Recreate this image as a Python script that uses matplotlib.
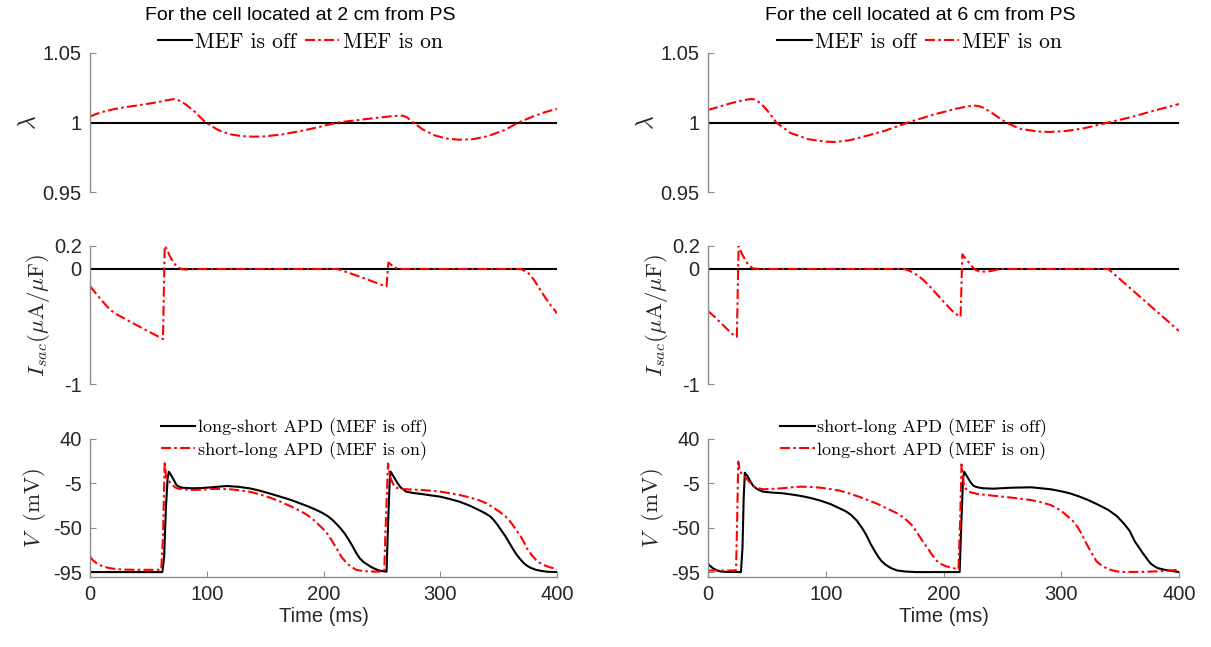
import numpy as np
import matplotlib
matplotlib.use('Agg')
import matplotlib.pyplot as plt

plt.rcParams['font.family'] = 'Liberation Sans'
plt.rcParams['mathtext.fontset'] = 'cm'
plt.rcParams['axes.unicode_minus'] = False

# ---- data ----
# left column: cell at 2 cm from PS
lam_t_2 = [0, 5, 10, 20, 30, 40, 50, 60, 66, 70, 72, 74, 77, 82, 90, 99, 110, 120, 130, 140, 150,
           165, 180, 195, 212, 230, 245, 258, 264, 266, 268, 271, 277, 285, 295, 305, 316, 328,
           340, 355, 367, 380, 390, 400]
lam_2 = [1.0043, 1.006, 1.0075, 1.0095, 1.011, 1.0122, 1.0135, 1.015, 1.0160, 1.0166, 1.0168,
         1.0166, 1.0155, 1.013, 1.0075, 1.0, 0.9945, 0.9915, 0.9902, 0.9898, 0.990, 0.9915,
         0.9938, 0.9965, 1.0, 1.0018, 1.0033, 1.0045, 1.0049, 1.005, 1.0048, 1.0040, 1.0, 0.995,
         0.9908, 0.9885, 0.9876, 0.988, 0.990, 0.9945, 1.0, 1.0045, 1.0075, 1.0098]

isac_t_2 = [0, 4, 9, 14, 18.7, 23, 28.5, 35, 41.6, 50, 61, 62.5, 64, 66, 68, 71, 74, 78, 82, 90,
            150, 212, 225, 240, 252.5, 254, 255.5, 257, 260, 264, 270, 330, 369, 375, 380, 385,
            390, 395, 400]
isac_2 = [-0.148, -0.2, -0.26, -0.32, -0.365, -0.395, -0.425, -0.462, -0.497, -0.543, -0.60, -0.61,
          0.2, 0.17, 0.12, 0.064, 0.025, 0.0, -0.005, 0.0, 0.0, 0.0, -0.045, -0.1, -0.148, -0.15,
          0.055, 0.045, 0.02, 0.0, 0.0, 0.0, 0.0, -0.03, -0.09, -0.17, -0.25, -0.32, -0.385]

v_off_t_2 = [0, 62, 63.5, 65, 66.5, 67.5, 69.4, 72, 74, 76.5, 79, 87, 95, 104, 117, 127, 136.5,
             145, 153, 163, 172.5, 186, 193, 199, 204, 208.5, 213, 218, 222, 225, 228, 231, 234.5,
             238, 241, 244.5, 248, 252.7, 254, 255.5, 256.8, 257.6, 259, 261, 263.5, 266, 270.7,
             277, 284, 292, 300, 308, 316.5, 325, 333, 338, 343, 346, 349, 352.5, 356, 359, 362,
             365.5, 369, 372, 375, 378, 382, 387, 392, 400]
v_off_2 = [-95, -95, -80, -30, 0, 6.8, 3.4, -2, -6.7, -8.5, -9.4, -10, -9.8, -9, -7.7, -8.5, -10,
           -12.3, -15, -18.5, -22, -28, -31.5, -35, -38.5, -43, -48.5, -55.6, -63, -69, -75.5, -81,
           -85, -87.7, -90, -92, -93.5, -94.4, -94.6, -40, 0, 6.8, 4, 0, -5, -9, -13.4, -14.8,
           -15.8, -17.2, -18.5, -20.8, -23.6, -27.5, -32, -35, -38.7, -42.5, -47, -53, -59, -65,
           -71, -77.5, -82.6, -86.5, -89, -91, -92.7, -93.9, -94.7, -95]

v_on_t_2 = [0, 2.5, 5.6, 8.5, 12, 16, 22, 30, 38, 61, 62.5, 64, 65, 66.5, 68, 70.5, 72.7, 75.5, 79,
            87, 95, 104, 112, 120, 128, 136.5, 145, 153, 163, 172.5, 180, 186, 191, 195, 199, 202,
            205, 208.5, 212, 215, 218.5, 221.6, 225, 228, 233, 238, 245, 252, 253.5, 255.3, 257,
            259, 261, 265, 270.7, 277, 284, 292, 300, 308, 316.5, 325, 333, 340, 346, 351, 356,
            359, 362, 365.5, 369, 372, 375, 378.5, 382, 385, 388.5, 394, 400]
v_on_2 = [-79.2, -83, -86, -88, -89.4, -90.8, -92, -92.5, -92.7, -92.7, -60, 17.6, 1.7, -1.5,
          -3.3, -6.5, -9, -10.3, -11, -11.7, -11.5, -10.7, -10.7, -11, -12, -13.4, -16, -19,
          -23.5, -28.6, -33, -37, -41.5, -46, -50.5, -54, -59, -65.7, -72.5, -79, -84, -87.7,
          -90.5, -92.7, -93.8, -94.4, -94.5, -94.4, -40, 15.2, 1.7, -4, -9, -10.3, -11, -11.4,
          -11.7, -12.5, -13.4, -15, -16.8, -19.2, -22, -25.5, -30, -34, -38.7, -42.5, -47, -53,
          -59, -65.5, -72.5, -78, -82.6, -85.5, -87.7, -90.2, -92]

# right column: cell at 6 cm from PS
lam_t_6 = [0, 10, 20, 30, 35, 37, 39, 42, 46, 50, 58, 70, 85, 100, 108, 120, 135, 150, 170, 190,
           210, 220, 224, 227, 230, 234, 240, 253, 265, 280, 291, 305, 320, 340, 360, 380, 400]
lam_6 = [1.009, 1.0115, 1.014, 1.016, 1.0167, 1.0169, 1.0167, 1.0155, 1.0128, 1.009, 1.0, 0.9925,
         0.988, 0.9862, 0.986, 0.9872, 0.9905, 0.994, 1.0, 1.0053, 1.0098, 1.0115, 1.0120,
         1.0121, 1.0118, 1.0105, 1.0075, 1.0, 0.9955, 0.9935, 0.9932, 0.994, 0.996, 1.0, 1.004,
         1.0088, 1.0133]

isac_t_6 = [0, 5, 10, 15, 20, 23, 24.5, 26, 28, 31, 34, 38, 45, 100, 167, 172, 178, 183, 190, 200,
            207, 213, 214.5, 216, 218, 222, 226, 230, 235, 240, 248, 300, 340, 400]
isac_6 = [-0.365, -0.41, -0.46, -0.51, -0.56, -0.583, -0.59, 0.2, 0.15, 0.09, 0.04, 0.005, 0.0,
          0.0, 0.0, -0.02, -0.055, -0.096, -0.17, -0.284, -0.36, -0.409, -0.415, 0.128, 0.1, 0.05,
          0.0, -0.02, -0.023, -0.018, 0.0, 0.0, 0.0, -0.539]

v_off_t_6 = [0, 2, 4, 7, 10.7, 15, 28, 29.3, 30.3, 31.3, 33.5, 36, 38.4, 42, 46.6, 55, 63, 71, 79,
             87, 95.4, 104, 111.7, 117, 121.5, 126.5, 131, 134.5, 137.8, 141, 144.3, 147.5, 151,
             155.5, 160.6, 168, 177, 213.7, 215, 216.6, 217.6, 219, 221, 223, 225.7, 229.5, 234,
             242, 258, 274.6, 291, 299, 307, 315, 323, 331, 340, 347, 353, 358, 362.5, 366, 369,
             372.5, 375.6, 379, 382, 387, 391.8, 396, 400]
v_off_6 = [-86.7, -89, -91, -93, -94.4, -94.8, -95, -70, -20, 5.8, 2.4, -3, -7.7, -11, -13.4, -14.4,
           -15, -16.3, -17.8, -19.8, -22.5, -26, -30.3, -33.3, -37, -43, -50.6, -57.5, -65.7, -72.5,
           -79, -84, -87.7, -91, -93.4, -94.5, -95, -95, -50, 0, 6.8, 4, 0, -4, -7.7, -9.2, -10,
           -10.4, -9.4, -9, -11, -12.8, -15, -18.2, -22, -26.5, -32, -38, -45.5, -53, -64, -70,
           -75.4, -81, -86, -89, -91, -92.5, -93.4, -94.3, -95]

v_on_t_6 = [0, 23.8, 24.8, 25.7, 27, 30, 35, 40, 46.6, 55, 63, 71, 79, 87, 95.4, 103, 111.7, 120,
            128, 136, 144.3, 152, 160.6, 166, 170, 174, 177, 180, 183.4, 187, 190, 193, 196.4, 200,
            203, 208, 212.7, 214.2, 215.3, 217.6, 221, 229, 242, 258, 274.6, 283, 291, 296,
            300.6, 305.5, 310.4, 314, 317, 320, 323.5, 327, 330, 335, 340, 345, 349.5, 360, 372,
            386, 400]
v_on_6 = [-93.4, -93.4, -40, 17, 6.8, 3.4, -3.3, -9, -11, -10.6, -10, -9, -8.4, -8.6, -9.4, -10.6,
          -12.4, -15.2, -18.5, -22, -26, -30.5, -35.4, -39.5, -43.8, -48.5, -54, -59.5, -65.7,
          -71.5, -77, -82, -86, -88, -89.4, -91, -92, -40, 14.2, -8.4, -13.4, -15.8, -17.5, -19.5,
          -22, -24.2, -27, -30, -33.6, -38.5, -43.8, -49.5, -55.6, -63, -70.8, -78, -84.3, -89,
          -92, -93.8, -94.7, -94.9, -94.7, -94, -92.7]

titles = ['For the cell located at 2 cm from PS', 'For the cell located at 6 cm from PS']
v_labels = [['long-short APD (MEF is off)', 'short-long APD (MEF is on)'],
            ['short-long APD (MEF is off)', 'long-short APD (MEF is on)']]
mef_labels = ['MEF is off', 'MEF is on']
time_ticks = [0, 100, 200, 300, 400]

GRAY = '#8c8c8c'
TXT = '#262626'
DASH = (0, (4.8, 1.6, 1.2, 1.6))
SERIF = 'cmr10'


def style(ax, show_x):
    ax.spines['top'].set_visible(False)
    ax.spines['right'].set_visible(False)
    ax.spines['left'].set_color(GRAY)
    ax.spines['left'].set_linewidth(1.0)
    if show_x:
        ax.spines['bottom'].set_color(GRAY)
        ax.spines['bottom'].set_linewidth(1.0)
    else:
        ax.spines['bottom'].set_visible(False)
        ax.tick_params(axis='x', bottom=False, labelbottom=False)
    ax.tick_params(direction='in', length=4, width=0.8, color=GRAY, labelcolor=TXT,
                   labelsize=14.5, pad=6)
    ax.set_xlim(0, 400)
    ax.set_xticks(time_ticks)


fig = plt.figure(figsize=(12.11, 6.47), dpi=100)

cols = [
    (90 / 1211, 467 / 1211, lam_t_2, lam_2, isac_t_2, isac_2, v_off_t_2, v_off_2, v_on_t_2, v_on_2),
    (708 / 1211, 471 / 1211, lam_t_6, lam_6, isac_t_6, isac_6, v_off_t_6, v_off_6, v_on_t_6, v_on_6),
]
rows = [(1 - 192 / 647, 139 / 647), (1 - 384 / 647, 138 / 647), (1 - 577 / 647, 138 / 647)]

for c, (x0, w, lt, lv, it, iv, vot, vo, vnt, vn) in enumerate(cols):
    # lambda panel
    ax = fig.add_axes([x0, rows[0][0], w, rows[0][1]])
    ax.plot([0, 400], [1, 1], color='k', lw=1.5, label=mef_labels[0])
    ax.plot(lt, lv, color='r', lw=1.5, ls=DASH, label=mef_labels[1])
    style(ax, False)
    ax.set_ylim(0.95, 1.05)
    ax.set_yticks([0.95, 1, 1.05])
    ax.set_yticklabels(['0.95', '1', '1.05'])
    ax.set_ylabel(r'$\lambda$', fontsize=17, color=TXT, va='center')
    ax.yaxis.set_label_coords(-61 / (w * 1211), 0.5)
    ax.text(0.45, 1.27, titles[c], transform=ax.transAxes, ha='center', va='center',
            fontsize=14, color='k')
    ax.legend(loc='center', bbox_to_anchor=(0.45, 1.08), ncol=2, frameon=False,
              prop={'family': SERIF, 'size': 15.5},
              handlelength=1.6, handletextpad=0.15, columnspacing=0.4, borderpad=0)

    # I_sac panel
    ax = fig.add_axes([x0, rows[1][0], w, rows[1][1]])
    ax.plot([0, 400], [0, 0], color='k', lw=1.5)
    ax.plot(it, iv, color='r', lw=1.5, ls=DASH)
    style(ax, False)
    ax.set_ylim(-1, 0.2)
    ax.set_yticks([-1, 0, 0.2])
    ax.set_yticklabels(['-1', '0', '0.2'])
    ax.set_ylabel(r'$I_{sac}(\mu\mathrm{A}/\mu\mathrm{F})$', fontsize=16.5, color=TXT,
                  va='center')
    ax.yaxis.set_label_coords(-52 / (w * 1211), 0.5)

    # V panel
    ax = fig.add_axes([x0, rows[2][0], w, rows[2][1]])
    ax.plot(vot, vo, color='k', lw=1.5, label=v_labels[c][0])
    ax.plot(vnt, vn, color='r', lw=1.5, ls=DASH, label=v_labels[c][1])
    style(ax, True)
    ax.set_ylim(-100, 40)
    ax.set_yticks([-95, -50, -5, 40])
    ax.set_ylabel(r'$V\ \ (\mathrm{mV})$', fontsize=16.5, color=TXT, va='center')
    ax.yaxis.set_label_coords(-55 / (w * 1211), 0.5)
    ax.set_xlabel('Time (ms)', fontsize=14.5, color=TXT, labelpad=2)
    ax.legend(loc='center', bbox_to_anchor=(0.437, 1.0), frameon=False,
              prop={'family': SERIF, 'size': 13},
              handlelength=1.9, handletextpad=0.15, labelspacing=0.2, borderpad=0)

fig.savefig('out.png', dpi=100)
